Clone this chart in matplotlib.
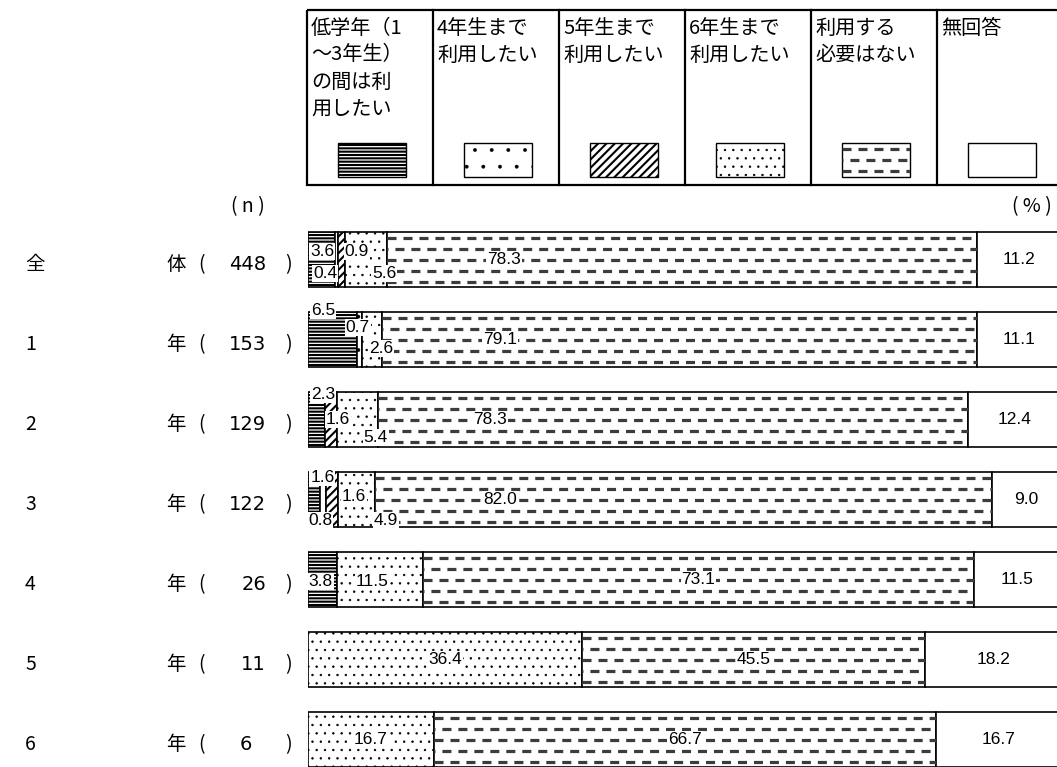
import matplotlib
matplotlib.use('Agg')
import matplotlib.pyplot as plt
from matplotlib.patches import Rectangle
from matplotlib import font_manager

plt.rcParams['font.family'] = ['Noto Sans CJK JP', 'DejaVu Sans']
plt.rcParams['hatch.color'] = 'black'
plt.rcParams['lines.scale_dashes'] = False

# ---------------- data ----------------
categories = ['低学年（1\n～3年生）\nの間は利\n用したい', '4年生まで\n利用したい', '5年生まで\n利用したい',
              '6年生まで\n利用したい', '利用する\n必要はない', '無回答']
row_heads = ['全', '1', '2', '3', '4', '5', '6']
row_tails = ['体', '年', '年', '年', '年', '年', '年']
n_values = [448, 153, 129, 122, 26, 11, 6]

low_grades = [3.6, 6.5, 2.3, 1.6, 3.8, 0.0, 0.0]
until_4th = [0.4, 0.7, 0.0, 0.8, 0.0, 0.0, 0.0]
until_5th = [0.9, 0.0, 1.6, 1.6, 0.0, 0.0, 0.0]
until_6th = [5.6, 2.6, 5.4, 4.9, 11.5, 36.4, 16.7]
not_needed = [78.3, 79.1, 78.3, 82.0, 73.1, 45.5, 66.7]
no_answer = [11.2, 11.1, 12.4, 9.0, 11.5, 18.2, 16.7]

series = [low_grades, until_4th, until_5th, until_6th, not_needed, no_answer]

# ---------------- styles / layout ----------------
hatches = ['-----', '.', '////', '..', None, None]
hatch_lws = [1.5, 0.3, 1.5, 0.5, 1.0, 1.0]
DASH_COLOR = '#3c3c3c'
W, H = 1057, 767
X0_PX, PX_PER_PCT = 308, 7.53
ROW0_PX, PITCH = 259.5, 80.0
BAR_H = 55 / PITCH

try:
    font_manager.findfont('Liberation Sans Narrow', fallback_to_default=False)
    VAL_FONT, VAL_SIZE = ['Liberation Sans Narrow'], 14.5
except Exception:
    VAL_FONT, VAL_SIZE = ['Liberation Sans'], 12.5

# manual label placements (x in %, dy in px) for crowded / moved labels
label_pos = {
    (0, 0): (1.9, -8), (0, 1): (2.3, 14), (0, 2): (6.5, -8), (0, 3): (10.1, 14), (0, 4): (26.0, 0),
    (1, 0): (2.0, -29), (1, 1): (6.6, -12), (1, 3): (9.7, 9), (1, 4): (25.5, 0),
    (2, 0): (2.0, -25), (2, 2): (4.0, 0), (2, 3): (9.0, 18), (2, 4): (24.2, 0),
    (3, 0): (1.9, -22), (3, 1): (1.6, 21), (3, 2): (6.1, -3), (3, 3): (10.3, 21), (3, 4): (25.5, 0),
    (4, 0): (1.7, 2), (4, 3): (8.5, 2),
}

fig = plt.figure(figsize=(W / 100, H / 100), dpi=100)
lay = fig.add_axes([0, 0, 1, 1])
lay.set_xlim(0, W)
lay.set_ylim(H, 0)
lay.axis('off')

ax = fig.add_axes([X0_PX / W, 0, 100 * PX_PER_PCT / W, 1])
ax.set_xlim(0, 100)
ax.set_ylim((H - ROW0_PX) / PITCH, -ROW0_PX / PITCH)
ax.axis('off')


def set_hlw(patch, lw):
    if hasattr(patch, 'set_hatch_linewidth'):
        patch.set_hatch_linewidth(lw)


def dash_fill(axis, patch, x_left, x_right, y_top, y_bot, nrows):
    for r in range(nrows):
        y = y_top + (y_bot - y_top) * (r + 0.5) / nrows
        off = 0 if r % 2 == 0 else 5.8
        ln, = axis.plot([x_left, x_right], [y, y], color=DASH_COLOR, lw=2.3,
                        linestyle=(off, (6.5, 5.0)), dash_capstyle='butt', zorder=3)
        ln.set_clip_path(patch)


# ---------------- bars ----------------
for i in range(len(n_values)):
    left = 0.0
    for k, s in enumerate(series):
        v = s[i]
        if v > 0:
            with plt.rc_context({'hatch.linewidth': hatch_lws[k]}):
                bars = ax.barh(i, v, left=left, height=BAR_H, color='white', edgecolor='black',
                               linewidth=1.2, hatch=hatches[k], zorder=2)
            set_hlw(bars.patches[0], hatch_lws[k])
            if k == 4:
                dash_fill(ax, bars.patches[0], left, left + v, i - BAR_H / 2, i + BAR_H / 2, 5)
            if (i, k) in label_pos:
                lx, dy = label_pos[(i, k)]
            else:
                lx, dy = left + v / 2, 0
            ax.text(lx, i + dy / PITCH, f'{v:.1f}', ha='center', va='center', fontsize=VAL_SIZE,
                    family=VAL_FONT, zorder=5,
                    bbox=dict(boxstyle='square,pad=0.05', facecolor='white', edgecolor='none'))
        left += v

# ---------------- row labels ----------------
for i in range(len(n_values)):
    yc = ROW0_PX + PITCH * i + 5
    lay.text(25, yc, row_heads[i], ha='left', va='center', fontsize=14)
    lay.text(176, yc, row_tails[i], ha='center', va='center', fontsize=14)
    lay.text(202, yc, '(', ha='center', va='center', fontsize=14)
    nx = 266 if n_values[i] >= 10 else 252
    lay.text(nx, yc, str(n_values[i]), ha='right', va='center', fontsize=14,
             family=['DejaVu Sans'])
    lay.text(288, yc, ')', ha='center', va='center', fontsize=14)

lay.text(248, 207, '( n )', ha='center', va='center', fontsize=14)
lay.text(1032, 207, '( % )', ha='center', va='center', fontsize=14)

# ---------------- legend table ----------------
T_TOP, T_BOT, T_LEFT, COL_W = 10, 185, 307, 126
lay.add_patch(Rectangle((T_LEFT, T_TOP), COL_W * 6 + 20, T_BOT - T_TOP, facecolor='none',
                        edgecolor='black', lw=1.6))
for c in range(1, 6):
    xc = T_LEFT + COL_W * c
    lay.plot([xc, xc], [T_TOP, T_BOT], color='black', lw=1.6)
for c, label in enumerate(categories):
    cl = T_LEFT + COL_W * c
    for j, line in enumerate(label.split('\n')):
        lay.text(cl + 4, 28 + 27 * j, line, ha='left', va='center', fontsize=14.5)
    cx = cl + COL_W / 2 + 2
    with plt.rc_context({'hatch.linewidth': hatch_lws[c]}):
        sw = Rectangle((cx - 34, 143), 68, 34, facecolor='white', edgecolor='black', lw=1.0,
                       hatch=hatches[c])
    set_hlw(sw, hatch_lws[c])
    lay.add_patch(sw)
    if c == 4:
        dash_fill(lay, sw, cx - 34, cx + 34, 143, 177, 3)

fig.savefig('out.png', dpi=100)
